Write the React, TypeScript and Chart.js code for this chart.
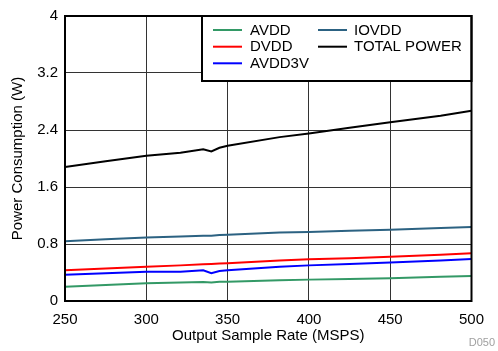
import React, { useEffect, useRef } from "react";
import { Chart, registerables } from "chart.js";

Chart.register(...registerables);

const sampleRates = [250, 275, 300, 321, 335, 340, 345, 350, 382, 400, 425, 450, 481, 500];
const avdd = [0.2, 0.225, 0.25, 0.26, 0.265, 0.26, 0.27, 0.27, 0.29, 0.3, 0.31, 0.32, 0.34, 0.35];
const dvdd = [0.43, 0.455, 0.48, 0.5, 0.515, 0.52, 0.525, 0.53, 0.57, 0.585, 0.6, 0.62, 0.65, 0.67];
const avdd3v = [0.37, 0.39, 0.41, 0.41, 0.43, 0.39, 0.42, 0.43, 0.48, 0.5, 0.52, 0.54, 0.57, 0.59];
const iovdd = [0.84, 0.865, 0.89, 0.905, 0.915, 0.915, 0.925, 0.93, 0.96, 0.97, 0.985, 1.0, 1.025, 1.04];
const totalPower = [1.88, 1.96, 2.04, 2.08, 2.13, 2.1, 2.15, 2.18, 2.3, 2.35, 2.43, 2.51, 2.6, 2.67];

const seriesNames = ["AVDD", "DVDD", "AVDD3V", "IOVDD", "TOTAL POWER"];
const seriesColors = ["#339966", "#ff0000", "#0000ff", "#2c6282", "#000000"];
const seriesValues = [avdd, dvdd, avdd3v, iovdd, totalPower];

const xTicks = [250, 300, 350, 400, 450, 500];
const yTicks = [0, 0.8, 1.6, 2.4, 3.2, 4];

const FONT = "'Liberation Sans', Arial, sans-serif";

const framePlugin = {
  id: "frameLegend",
  afterDatasetsDraw(chart: any) {
    const { ctx, chartArea } = chart;
    const { left, right, top, bottom } = chartArea;
    ctx.save();
    // legend box
    const lx = 202, ly = top, lr = right, lb = 81;
    ctx.fillStyle = "#ffffff";
    ctx.fillRect(lx, ly, lr - lx, lb - ly);
    ctx.strokeStyle = "#000";
    ctx.lineWidth = 2;
    ctx.strokeRect(lx, ly, lr - lx, lb - ly);
    // frame
    ctx.strokeRect(left, top, right - left, bottom - top);
    // legend entries
    const cols = [
      { lineX: 213, textX: 250, items: [0, 1, 2] },
      { lineX: 318, textX: 354, items: [3, 4] },
    ];
    const rowsY = [30, 46.7, 63.3];
    ctx.font = `15px ${FONT}`;
    ctx.textBaseline = "middle";
    ctx.textAlign = "left";
    cols.forEach((c) => {
      c.items.forEach((idx, r) => {
        const y = rowsY[r];
        ctx.strokeStyle = seriesColors[idx];
        ctx.lineWidth = 2;
        ctx.beginPath();
        ctx.moveTo(c.lineX, y);
        ctx.lineTo(c.lineX + 29, y);
        ctx.stroke();
        ctx.fillStyle = "#000";
        ctx.fillText(seriesNames[idx], c.textX, y + 0.5);
      });
    });
    // D050 mark
    ctx.font = `11px ${FONT}`;
    ctx.fillStyle = "#a0a0a0";
    ctx.textAlign = "right";
    ctx.fillText("D050", 495, 343);
    ctx.restore();
  },
};

export default function App() {
  const ref = useRef<HTMLCanvasElement>(null);
  useEffect(() => {
    if (!ref.current) return;
    const chart = new Chart(ref.current, {
      type: "line",
      data: {
        datasets: seriesNames.map((name, i) => ({
          label: name,
          data: sampleRates.map((x, j) => ({ x, y: seriesValues[i][j] })),
          borderColor: seriesColors[i],
          backgroundColor: seriesColors[i],
          borderWidth: 2,
          pointRadius: 0,
          tension: 0,
          fill: false,
        })),
      },
      options: {
        animation: false,
        responsive: false,
        layout: { padding: { top: 13, right: 26.5, left: 0, bottom: 0 } },
        plugins: { legend: { display: false }, tooltip: { enabled: false } },
        scales: {
          x: {
            type: "linear",
            min: 250,
            max: 500,
            afterFit: (s: any) => { s.height = 50; },
            afterBuildTicks: (s: any) => { s.ticks = xTicks.map((v) => ({ value: v })); },
            ticks: {
              padding: 10,
              color: "#000",
              font: { family: FONT, size: 15 },
              maxRotation: 0,
              callback: (v: any) => String(v),
            },
            grid: { color: "#333", lineWidth: 1, drawTicks: false },
            border: { display: false },
            title: {
              display: true,
              text: "Output Sample Rate (MSPS)",
              color: "#000",
              font: { family: FONT, size: 15 },
              padding: { top: 0, bottom: 6.5 },
            },
          },
          y: {
            type: "linear",
            min: 0,
            max: 4,
            afterFit: (s: any) => { s.width = 65; },
            afterBuildTicks: (s: any) => { s.ticks = yTicks.map((v) => ({ value: v })); },
            ticks: {
              padding: 7,
              color: "#000",
              font: { family: FONT, size: 15 },
              callback: (v: any) => String(+Number(v).toFixed(1)),
            },
            grid: { color: "#333", lineWidth: 1, drawTicks: false },
            border: { display: false },
            title: {
              display: true,
              text: "Power Consumption (W)",
              color: "#000",
              font: { family: FONT, size: 15 },
              padding: { top: 9, bottom: 0 },
            },
          },
        },
      },
      plugins: [framePlugin],
    });
    return () => chart.destroy();
  }, []);
  return (
    <div style={{ position: "absolute", left: 0, top: 0, width: 498, height: 351, background: "#fff" }}>
      <canvas ref={ref} width={498} height={351} style={{ display: "block" }} />
    </div>
  );
}
